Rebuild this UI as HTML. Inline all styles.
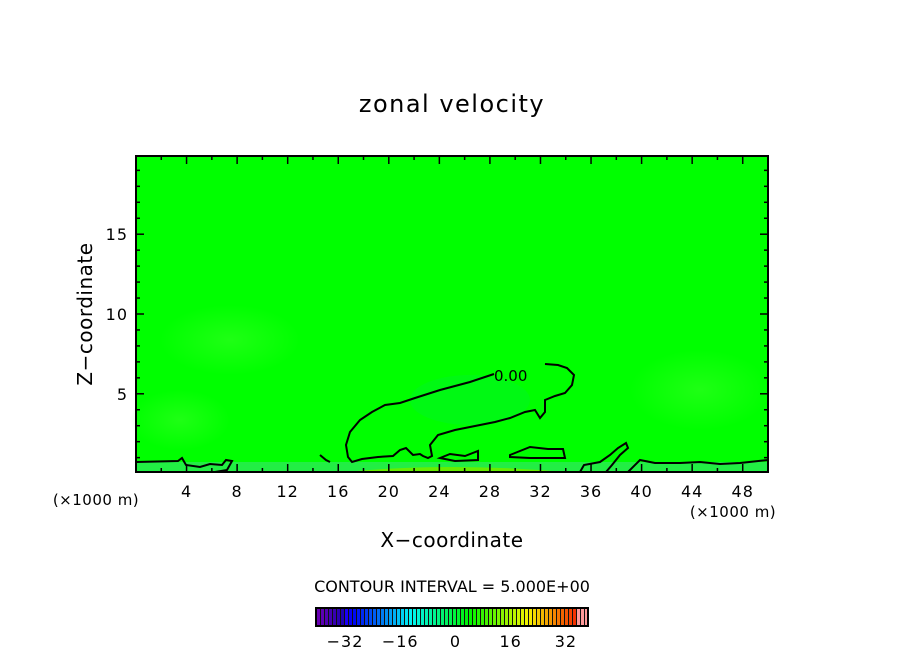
<!DOCTYPE html>
<html><head><meta charset="utf-8"><style>
body{margin:0;background:#fff;}
svg text{font-family:"DejaVu Sans","Liberation Sans",sans-serif;fill:#000;}
</style></head><body>
<svg id="c" width="904" height="654" xmlns="http://www.w3.org/2000/svg">
<defs>
<radialGradient id="g1" cx="0.5" cy="0.5" r="0.5"><stop offset="0" stop-color="#33ff22" stop-opacity="0.6"/><stop offset="1" stop-color="#33ff22" stop-opacity="0"/></radialGradient>
</defs>
<text x="452" y="112" font-size="24" letter-spacing="1.5" text-anchor="middle">zonal velocity</text>
<g id="plot">
<rect x="136" y="156" width="632" height="316" fill="#00ff00"/>
<ellipse cx="230" cy="340" rx="70" ry="35" fill="url(#g1)"/>
<ellipse cx="700" cy="390" rx="70" ry="40" fill="url(#g1)"/>
<ellipse cx="180" cy="420" rx="50" ry="30" fill="url(#g1)"/>
<ellipse cx="470" cy="400" rx="60" ry="25" fill="#00f030" opacity="0.4"/>
<rect x="136" y="462" width="632" height="10" fill="#22ee44"/>
<path d="M345,472 Q450,462 565,472 Z" fill="#66ee00"/>
<g fill="none" stroke="#000" stroke-width="2">
<path d="M494,374 L470,382 L440,390 L415,398 L400,403 L385,405 L372,412 L360,420 L350,432 L346,445 L348,457 L352,462 L362,459 L378,457 L393,456 L400,450 L406,448 L413,455 L420,454 L423,456 L428,458 L432,456 L430,445 L438,435 L455,430 L475,426 L495,422 L510,418 L525,412 L535,410 L540,418 L545,412 L545,400 L555,396 L565,393 L572,385 L574,375 L567,368 L558,365 L545,364"/>
<path d="M136,462 L178,461 L182,458 L186,465 L200,467 L210,464 L222,465 L226,460 L232,461 L227,470 L215,472"/>
<path d="M440,458 L450,454 L465,456 L478,451 L478,460 L455,461 Z"/>
<path d="M510,455 L530,447 L548,449 L563,449 L565,458 L548,458 L530,458 L510,457 Z"/>
<path d="M580,472 L584,465 L600,462 L610,455 L618,448 L626,443 L628,448 L620,455 L612,465 L606,472"/>
<path d="M628,472 L640,460 L655,463 L680,463 L700,462 L720,464 L740,463 L768,460"/>
<path d="M320,455 L326,460 L330,462"/>
</g>
<text x="494" y="381" font-size="15">0.00</text>
<g id="ticks" stroke="#000" stroke-width="1.5"></g>
<rect x="136" y="156" width="632" height="316" fill="none" stroke="#000" stroke-width="2"/>
</g>
<g id="labels"></g>
<text x="96" y="505" font-size="15" letter-spacing="0.5" text-anchor="middle">(×1000 m)</text>
<text x="733" y="517" font-size="15" letter-spacing="0.5" text-anchor="middle">(×1000 m)</text>
<text x="452" y="547" font-size="20" letter-spacing="0.5" text-anchor="middle">X−coordinate</text>
<text transform="translate(92,314) rotate(-90)" font-size="20" letter-spacing="0.5" text-anchor="middle">Z−coordinate</text>
<text x="452" y="592" font-size="16" text-anchor="middle">CONTOUR INTERVAL = 5.000E+00</text>
<rect x="316" y="608" width="272" height="18" fill="#111"/>
<g id="cbar"></g>
<rect x="316" y="608" width="272" height="18" fill="none" stroke="#000" stroke-width="2"/>
<g id="cblabels"></g>
</svg>
<script>
const xTicks=[4,8,12,16,20,24,28,32,36,40,44,48];
const yTicks=[5,10,15];
const cbTicks=[-32,-16,0,16,32];
const xMin=0,xMax=50,yMin=0.1,yMax=19.9;
const cbMin=-40.4,cbMax=38.4;
const NS="http://www.w3.org/2000/svg";
const sx=v=>136+(v-xMin)/(xMax-xMin)*632;
const sy=v=>472-(v-yMin)/(yMax-yMin)*316;
const cx=v=>316+(v-cbMin)/(cbMax-cbMin)*272;
function mk(t,a,p){const e=document.createElementNS(NS,t);for(const k in a)e.setAttribute(k,a[k]);p.appendChild(e);return e;}
const tg=document.getElementById('ticks'),lg=document.getElementById('labels');
for(let v=2;v<50;v+=2){const L=v%4==0?8:4;
mk('line',{x1:sx(v),x2:sx(v),y1:472,y2:472-L},tg);mk('line',{x1:sx(v),x2:sx(v),y1:156,y2:156+L},tg);}
for(let v=1;v<20;v++){const L=v%5==0?8:4;
mk('line',{x1:136,x2:136+L,y1:sy(v),y2:sy(v)},tg);mk('line',{x1:768,x2:768-L,y1:sy(v),y2:sy(v)},tg);}
xTicks.forEach(v=>{const t=mk('text',{x:sx(v),y:497,'font-size':16,'text-anchor':'middle','letter-spacing':1},lg);t.textContent=v;

});
yTicks.forEach(v=>{const t=mk('text',{x:128,y:sy(v)+6,'font-size':16,'text-anchor':'end','letter-spacing':1},lg);t.textContent=v;

});
const cb=document.getElementById('cbar');
function col(f){if(f>0.97)return '#ff9999';const h=(1-f)*275;return `hsl(${h},100%,${f<0.1?35:48}%)`;}
for(let i=0;i<68;i++){const x=317+i*4;const f=i/67;
const r=mk('rect',{x:x,y:608,width:3,height:18,fill:col(f)},cb);

}
const cl=document.getElementById('cblabels');
cbTicks.forEach(v=>{const t=mk('text',{x:cx(v),y:647,'font-size':16,'text-anchor':'middle','letter-spacing':1},cl);t.textContent=v<0?'−'+(-v):v;

});
</script>
</body></html>
